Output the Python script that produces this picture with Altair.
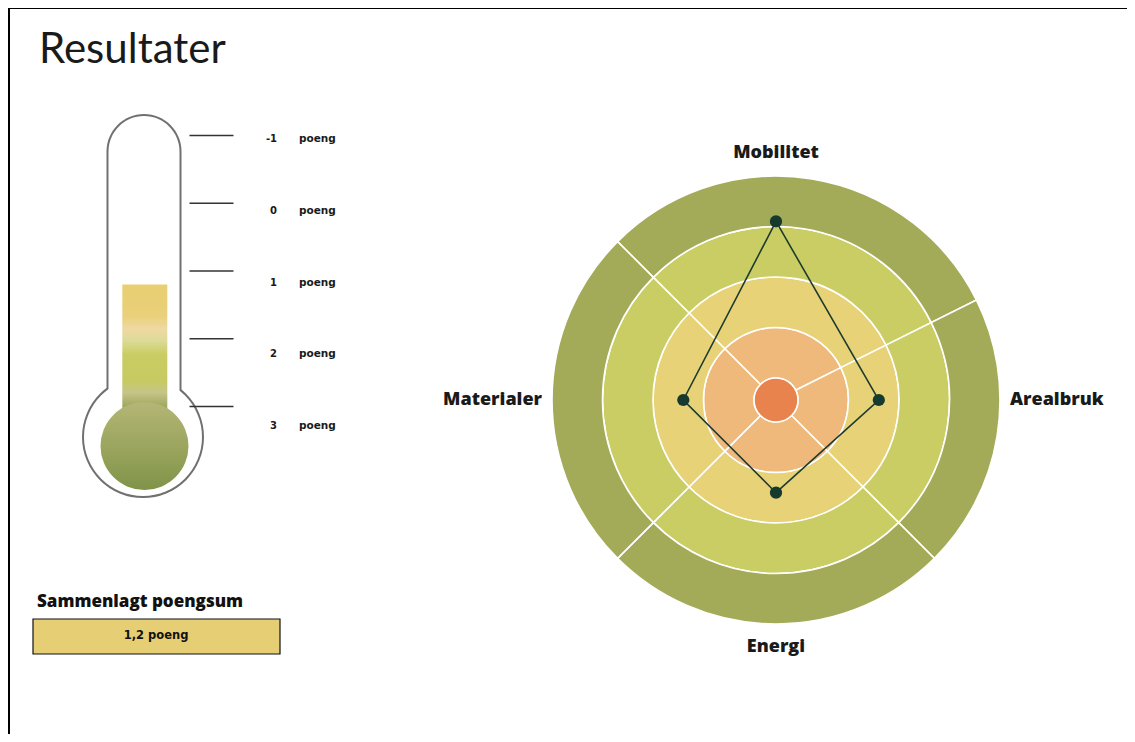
import math
import altair as alt
import pandas as pd

# ---------------- data ----------------
title_text = "Resultater"
categories = ["Mobilitet", "Arealbruk", "Energi", "Materialer"]
scores = [2.1, 0.6, 0.4, 0.4]
scale_ticks = [-1, 0, 1, 2, 3]
unit_label = "poeng"
total_score = 1.2
summary_title = "Sammenlagt poengsum"
ring_edges = [-1, 0, 1, 2, 3]
sector_edges = [-45, 63.5, 135, 225, 315]
ring_colors = ["#E8834D", "#EFB97B", "#E8D277", "#C9CD63", "#A3AB59"]

# ---------------- layout helpers ----------------
W, H = 1119, 726
OX, OY = 8, 8


def px(x):
    return x - OX


def py(y):
    return y - OY


CX, CY = px(776), py(400)
R_PX = 224
S_MIN = -1 - 22 / 50.5
S_MAX = 3
R_UNITS = S_MAX - S_MIN

one = pd.DataFrame({"a": [0]})
FONT_HEAD = "Lato"
FONT_BOLD = "Open Sans"
FONT_SMALL = "DejaVu Sans"

# border
border_v = alt.Chart(one).mark_rule(color="black", strokeWidth=2).encode(
    x=alt.value(1), y=alt.value(0), y2=alt.value(H))
border_h = alt.Chart(one).mark_rule(color="black", strokeWidth=2).encode(
    x=alt.value(0), x2=alt.value(W), y=alt.value(0))

title = alt.Chart(pd.DataFrame({"t": [title_text]})).mark_text(
    font=FONT_HEAD, fontSize=42, fontWeight="normal", color="#1a1a1a",
    align="left", baseline="alphabetic").encode(
    x=alt.value(px(39)), y=alt.value(py(63)), text="t:N")

# ---------------- thermometer ----------------
SHELL = "#707070"
gray_tube = alt.Chart(one).mark_rect(
    color=SHELL, cornerRadiusTopLeft=37.5, cornerRadiusTopRight=37.5).encode(
    x=alt.value(px(106.5)), x2=alt.value(px(181.5)),
    y=alt.value(py(114)), y2=alt.value(py(420)))
gray_bulb = alt.Chart(one).mark_point(
    shape="circle", filled=True, color=SHELL, opacity=1, size=122 ** 2).encode(
    x=alt.value(px(143)), y=alt.value(py(437)))
white_tube = alt.Chart(one).mark_rect(
    color="white", cornerRadiusTopLeft=35.5, cornerRadiusTopRight=35.5).encode(
    x=alt.value(px(108.5)), x2=alt.value(px(179.5)),
    y=alt.value(py(116)), y2=alt.value(py(440)))
white_bulb = alt.Chart(one).mark_point(
    shape="circle", filled=True, color="white", opacity=1, size=118 ** 2).encode(
    x=alt.value(px(143)), y=alt.value(py(437)))

tick_scale = alt.Scale(domain=[-1, 3], range=[py(135.5), py(406.5)], nice=False, zero=False)
label_scale = alt.Scale(domain=[-1, 3], range=[py(139), py(426)], nice=False, zero=False)

col_grad = alt.LinearGradient(
    gradient="linear", x1=0, x2=0, y1=0, y2=1,
    stops=[
        alt.GradientStop(color="#E8CF72", offset=0.0),
        alt.GradientStop(color="#E9D07A", offset=0.22),
        alt.GradientStop(color="#EFD9A2", offset=0.32),
        alt.GradientStop(color="#DCDB98", offset=0.40),
        alt.GradientStop(color="#C9CC62", offset=0.50),
        alt.GradientStop(color="#C7CA60", offset=0.68),
        alt.GradientStop(color="#C6C489", offset=0.77),
        alt.GradientStop(color="#9EA65C", offset=0.87),
        alt.GradientStop(color="#A0A862", offset=1.0),
    ])
fill_col = alt.Chart(pd.DataFrame({"v": [total_score]})).mark_rect(fill=col_grad).encode(
    x=alt.value(px(122.3)), x2=alt.value(px(167.3)),
    y=alt.Y("v:Q", scale=tick_scale, axis=None), y2=alt.value(py(425)))

bulb_grad = alt.LinearGradient(
    gradient="linear", x1=0, x2=0, y1=0, y2=1,
    stops=[alt.GradientStop(color="#B4B675", offset=0.0),
           alt.GradientStop(color="#99A45C", offset=0.55),
           alt.GradientStop(color="#7F9349", offset=1.0)])
bulb_fill = alt.Chart(one).mark_point(
    shape="circle", filled=True, fill=bulb_grad, opacity=1, strokeWidth=0,
    size=88 ** 2).encode(x=alt.value(px(144.5)), y=alt.value(py(446)))

tick_df = pd.DataFrame({"v": scale_ticks, "lab": [str(t) for t in scale_ticks],
                        "unit": [unit_label] * len(scale_ticks)})
ticks = alt.Chart(tick_df).mark_rule(color="#333333", strokeWidth=1.5).encode(
    x=alt.value(px(189.5)), x2=alt.value(px(233.5)),
    y=alt.Y("v:Q", scale=tick_scale, axis=None))
tick_nums = alt.Chart(tick_df).mark_text(
    font=FONT_SMALL, fontSize=10, fontWeight="bold", color="#1a1a1a",
    align="right", baseline="middle").encode(
    x=alt.value(px(277)), y=alt.Y("v:Q", scale=label_scale, axis=None), text="lab:N")
tick_units = alt.Chart(tick_df).mark_text(
    font=FONT_SMALL, fontSize=10.5, fontWeight="bold", color="#1a1a1a",
    align="left", baseline="middle").encode(
    x=alt.value(px(299)), y=alt.Y("v:Q", scale=label_scale, axis=None), text="unit:N")

# ---------------- summary ----------------
sum_title = alt.Chart(pd.DataFrame({"t": [summary_title]})).mark_text(
    font=FONT_BOLD, fontSize=17, fontWeight=800, color="#111111",
    align="left", baseline="middle").encode(
    x=alt.value(px(37)), y=alt.value(py(602)), text="t:N")
sum_box = alt.Chart(one).mark_rect(color="#E5CE73", stroke="#111111", strokeWidth=1.2).encode(
    x=alt.value(px(33)), x2=alt.value(px(280)), y=alt.value(py(619)), y2=alt.value(py(654)))
sum_val = alt.Chart(pd.DataFrame({"t": [f"{total_score:.1f}".replace(".", ",") + " " + unit_label]})).mark_text(
    font=FONT_SMALL, fontSize=11.5, fontWeight="bold", color="#111111",
    align="center", baseline="middle").encode(
    x=alt.value(px(156)), y=alt.value(py(636)), text="t:N")

# ---------------- radar ----------------
cells = []
for k in range(len(ring_edges) - 1):
    for j in range(len(sector_edges) - 1):
        cells.append({"ring": k + 1, "t0": sector_edges[j], "t1": sector_edges[j + 1],
                      "r_in": ring_edges[k], "r_out": ring_edges[k + 1]})
cells.append({"ring": 0, "t0": 0, "t1": 360, "r_in": S_MIN, "r_out": ring_edges[0]})
cells_df = pd.DataFrame(cells)

arcs = alt.Chart(cells_df).mark_arc(stroke="white", strokeWidth=1.6).encode(
    x=alt.value(CX), y=alt.value(CY),
    theta=alt.Theta("t0:Q", scale=alt.Scale(domain=[0, 360], range=[0, 2 * math.pi], nice=False, zero=False), stack=False),
    theta2="t1:Q",
    radius=alt.Radius("r_out:Q", scale=alt.Scale(type="linear", domain=[S_MIN, S_MAX], range=[0, R_PX], nice=False, zero=False)),
    radius2="r_in:Q",
    color=alt.Color("ring:N", scale=alt.Scale(domain=[0, 1, 2, 3, 4], range=ring_colors), legend=None),
)

n = len(categories)
rows = []
for i in range(n + 1):
    idx = i % n
    ang = math.radians(idx * 360 / n)
    rr = scores[idx] - S_MIN
    rows.append({"order": i, "cat": categories[idx], "px": rr * math.sin(ang), "py": rr * math.cos(ang)})
poly_df = pd.DataFrame(rows)

xs = alt.Scale(domain=[-R_UNITS, R_UNITS], range=[CX - R_PX, CX + R_PX], nice=False, zero=False)
ys = alt.Scale(domain=[-R_UNITS, R_UNITS], range=[CY + R_PX, CY - R_PX], nice=False, zero=False)

poly = alt.Chart(poly_df).mark_line(color="#1E3B30", strokeWidth=1.6).encode(
    x=alt.X("px:Q", scale=xs, axis=None), y=alt.Y("py:Q", scale=ys, axis=None),
    order="order:Q")
pts = alt.Chart(poly_df[poly_df["order"] < n]).mark_circle(color="#163A2D", opacity=1, size=150).encode(
    x=alt.X("px:Q", scale=xs, axis=None), y=alt.Y("py:Q", scale=ys, axis=None))

lab_rows = []
for i, c in enumerate(categories):
    ang = math.radians(i * 360 / n)
    s = math.sin(ang)
    if s > 0.5:
        side, d = "right", 234
    elif s < -0.5:
        side, d = "left", 234
    else:
        side, d = "mid", 247
    L = d / R_PX * R_UNITS
    lab_rows.append({"cat": c, "side": side, "lx": L * math.sin(ang), "ly": L * math.cos(ang)})
lab_df = pd.DataFrame(lab_rows)


def cat_labels(side, align):
    return alt.Chart(lab_df).transform_filter(alt.datum.side == side).mark_text(
        font=FONT_BOLD, fontSize=18, fontWeight=800, color="#1a1a1a",
        align=align, baseline="middle").encode(
        x=alt.X("lx:Q", scale=xs, axis=None), y=alt.Y("ly:Q", scale=ys, axis=None), text="cat:N")


chart = alt.layer(
    border_v, border_h, title,
    gray_tube, gray_bulb, white_tube, white_bulb, fill_col, bulb_fill,
    ticks, tick_nums, tick_units,
    sum_title, sum_box, sum_val,
    arcs, poly, pts,
    cat_labels("mid", "center"), cat_labels("right", "left"), cat_labels("left", "right"),
).resolve_scale(x="independent", y="independent").properties(
    width=W, height=H, autosize=alt.AutoSizeParams(type="none"), padding=0,
    background="white",
).configure_view(strokeWidth=0)

chart.save("out.html", embed_options={"renderer": "svg", "actions": False})
